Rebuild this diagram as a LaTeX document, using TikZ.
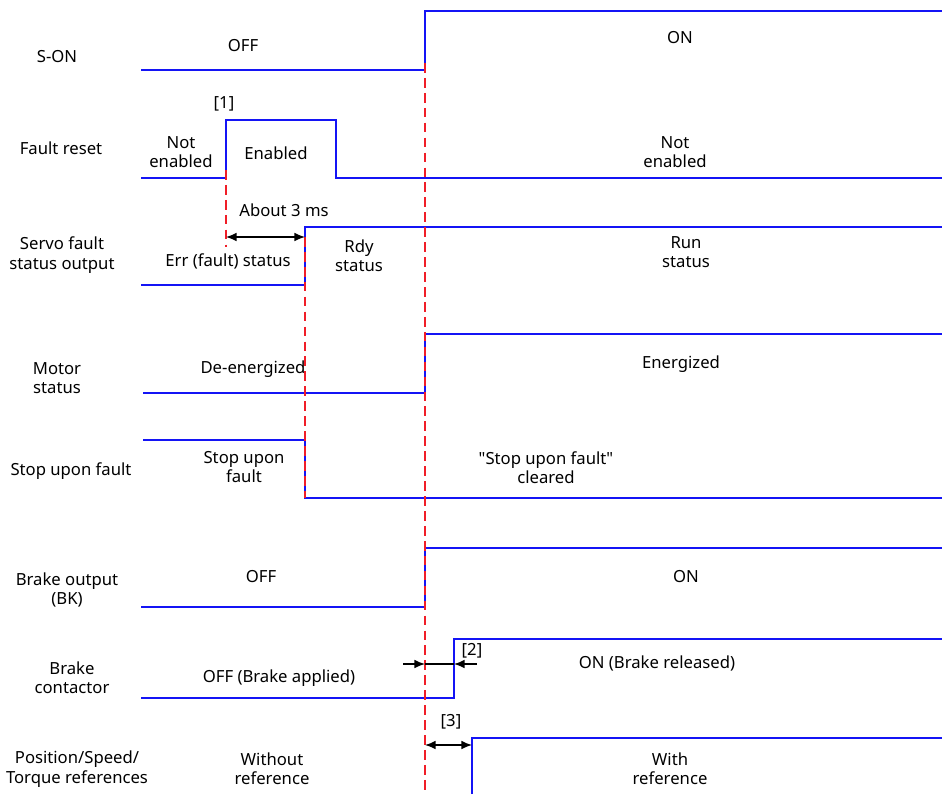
\documentclass[tikz,border=0pt]{standalone}
\usepackage{fontspec}
\setmainfont{Noto Sans}
\usetikzlibrary{arrows.meta}
\definecolor{sigblue}{RGB}{20,20,245}
\definecolor{markred}{RGB}{240,30,40}

\begin{document}
\begin{tikzpicture}[x=0.02cm, y=-0.02cm,
    wave/.style={draw=sigblue, line width=1.1pt},
    marker/.style={draw=markred, line width=0.85pt, dash pattern=on 5.5pt off 3pt},
    gap/.style={draw=black, line width=0.9pt},
    tip/.style={>={Latex[length=6pt, width=5pt]}},
    lbl/.style={font=\fontsize{9.5}{11}\selectfont, align=center, inner sep=0pt}]
  \useasboundingbox (0,0) rectangle (942,794);

  % signal names
  \node[lbl] (nson)   at (57,57)   {S-ON};
  \node[lbl] (nreset) at (61,148)  {Fault reset};
  \node[lbl] (nfault) at (62,255)  {Servo fault\\status output};
  \node[lbl] (nmotor) at (57,378)  {Motor\\status};
  \node[lbl] (nstop)  at (71,471)  {Stop upon fault};
  \node[lbl] (nbk)    at (67,590)  {Brake output\\(BK)};
  \node[lbl] (ncont)  at (72,678)  {Brake\\contactor};
  \node[lbl] (nref)   at (77,769)  {Position/Speed/\\Torque references};

  % waveforms
  \draw[wave] (141,70) -- (425,70) -- (425,11) -- (942,11);
  \draw[wave] (141,178) -- (226,178) -- (226,120) -- (336,120) -- (336,178) -- (942,178);
  \draw[wave] (141,285) -- (305,285) -- (305,227) -- (942,227);
  \draw[wave] (143,393) -- (425,393) -- (425,334) -- (942,334);
  \draw[wave] (143,440) -- (305,440) -- (305,498) -- (942,498);
  \draw[wave] (141,607) -- (425,607) -- (425,548) -- (942,548);
  \draw[wave] (141,698) -- (454,698) -- (454,639) -- (942,639);
  \draw[wave] (472,794) -- (472,738) -- (942,738);

  % time markers
  \draw[marker] (226,170) -- (226,247);
  \draw[marker] (305,237) -- (305,498);
  \draw[marker] (425,63) -- (425,794);

  % states
  \node[lbl] (son0)   at (243,46)  {OFF};
  \node[lbl] (son1)   at (680,38)  {ON};
  \node[lbl] (tag1)   at (224,104) {[1]};
  \node[lbl] (rst0)   at (181,152) {Not\\enabled};
  \node[lbl] (rst1)   at (276,153) {Enabled};
  \node[lbl] (rst2)   at (675,152) {Not\\enabled};
  \node[lbl] (t3ms)   at (284,210) {About 3 ms};
  \node[lbl] (err)    at (228,261) {Err (fault) status};
  \node[lbl] (rdy)    at (359,256) {Rdy\\status};
  \node[lbl] (run)    at (686,252) {Run\\status};
  \node[lbl] (mot0)   at (253,369) {De-energized};
  \node[lbl] (mot1)   at (681,364) {Energized};
  \node[lbl] (stp0)   at (244,467) {Stop upon\\fault};
  \node[lbl] (stp1)   at (546,468) {\textquotedbl Stop upon fault\textquotedbl\\cleared};
  \node[lbl] (bk0)    at (261,577) {OFF};
  \node[lbl] (bk1)    at (686,577) {ON};
  \node[lbl] (ct0)    at (279,678) {OFF (Brake applied)};
  \node[lbl] (ct1)    at (657,663) {ON (Brake released)};
  \node[lbl] (tag2)   at (472,651) {[2]};
  \node[lbl] (tag3)   at (451,722) {[3]};
  \node[lbl] (ref0)   at (272,769) {Without\\reference};
  \node[lbl] (ref1)   at (670,769) {With\\reference};

  % delays
  \coordinate (a1) at (226,237);
  \coordinate (a2) at (305,237);
  \draw[gap, tip, <->] (a1) -- (a2);
  \coordinate (b0) at (403,664);
  \coordinate (b1) at (425,664);
  \coordinate (b2) at (454,664);
  \coordinate (b3) at (477,664);
  \draw[gap, tip, ->] (b0) -- (b1);
  \draw[gap] (b1) -- (b2);
  \draw[gap, tip, ->] (b3) -- (b2);
  \coordinate (c1) at (425,745);
  \coordinate (c2) at (472,745);
  \draw[gap, tip, <->] (c1) -- (c2);
\end{tikzpicture}
\end{document}
